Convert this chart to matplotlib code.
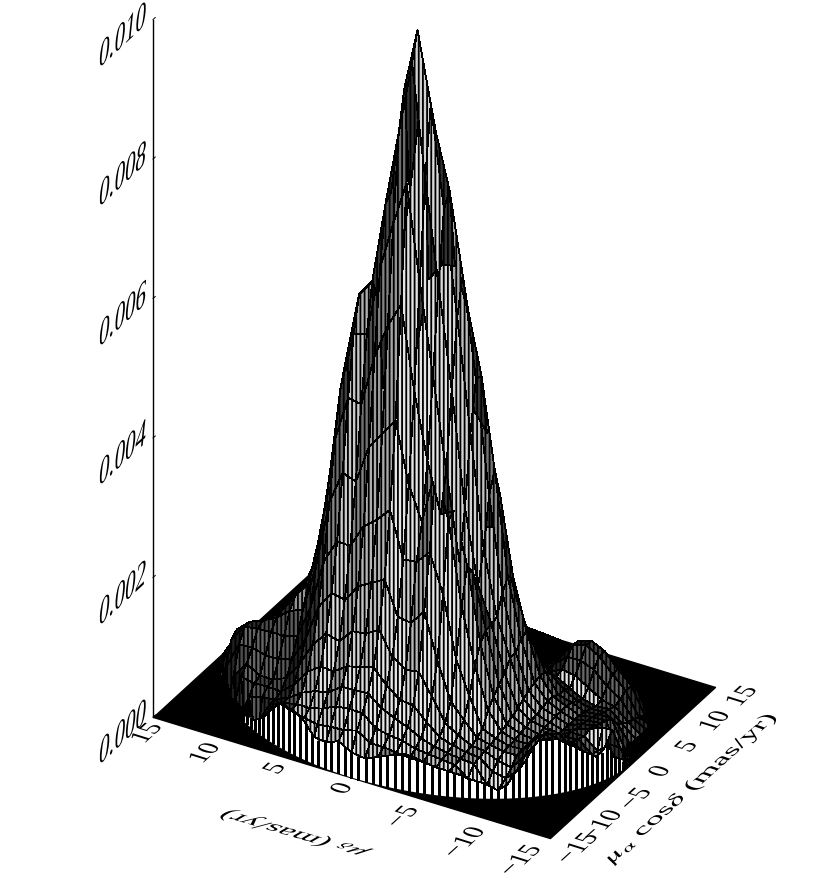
import numpy as np
import matplotlib
matplotlib.use("Agg")
import matplotlib.pyplot as plt
from matplotlib.patheffects import AbstractPathEffect
from matplotlib.transforms import Affine2D
from mpl_toolkits.mplot3d import proj3d
from mpl_toolkits.mplot3d.art3d import Poly3DCollection, Line3DCollection

plt.rcParams["font.family"] = ["Liberation Serif", "DejaVu Serif"]
plt.rcParams["mathtext.fontset"] = "stix"
plt.rcParams["hatch.linewidth"] = 1.3

mu_alpha = list(range(-15, 16))
mu_delta = list(range(15, -16, -1))

# density, units of 1e-5, one row per mu_delta, one column per mu_alpha
density = [
    [18,16,14,12,11,10,8,8,7,6,6,5,5,4,4,3,3,3,3,3,3,3,3,3,3,3,3,3,3,3,3],
    [16,18,14,12,11,10,8,8,7,6,12,8,5,4,4,3,3,3,3,3,3,3,3,3,3,3,3,3,3,3,3],
    [14,14,18,14,12,11,10,8,35,40,28,15,7,5,4,4,3,3,3,3,3,3,3,3,3,3,3,3,3,3,3],
    [12,12,12,14,14,12,45,78,85,66,42,22,10,6,5,4,3,3,3,3,3,3,3,3,3,3,3,3,3,3,3],
    [10,12,14,16,18,45,84,102,102,80,55,30,18,8,5,4,4,3,3,3,3,3,3,3,3,3,3,3,3,3,3],
    [12,12,14,18,58,69,85,105,110,105,85,60,44,21,10,6,4,4,3,3,3,3,3,3,3,3,3,3,3,3,3],
    [18,16,14,42,54,58,80,106,119,123,108,90,67,40,20,11,6,5,4,3,3,3,3,3,3,3,3,3,3,3,3],
    [42,30,22,47,55,58,80,106,135,149,144,138,107,68,36,18,8,5,4,4,3,3,3,3,3,3,3,3,3,3,3],
    [58,48,50,50,54,66,86,112,142,173,194,192,158,103,55,27,12,7,5,4,4,3,3,3,3,3,3,3,3,3,3],
    [64,63,58,58,70,92,119,159,211,259,298,308,261,179,97,44,20,9,6,5,4,4,4,3,3,3,3,3,3,3,3],
    [63,60,62,71,94,126,172,231,308,390,456,490,431,304,172,78,32,13,8,6,5,4,4,4,3,3,3,3,3,3,3],
    [57,55,62,79,107,147,198,265,356,456,540,590,543,404,241,121,51,23,10,6,5,5,4,4,4,3,3,3,3,3,3],
    [39,52,67,83,106,142,194,264,349,453,546,615,585,447,286,149,65,24,10,6,5,5,4,4,4,3,3,3,3,3,3],
    [38,54,76,97,119,162,219,298,405,527,647,732,740,594,389,206,91,34,13,7,6,5,5,4,4,4,4,3,3,3,3],
    [46,55,78,98,124,164,230,313,429,577,716,840,895,740,498,271,113,48,18,8,6,5,5,4,4,4,4,3,3,3,3],
    [36,60,78,99,129,176,241,333,454,613,780,945,985,900,613,348,162,64,25,8,5,5,4,4,4,4,3,3,3,3,3],
    [33,48,62,84,109,143,193,268,368,495,644,785,885,835,640,408,213,93,36,10,6,5,5,4,4,4,4,3,3,3,3],
    [40,48,58,75,94,130,190,270,320,400,515,639,740,760,644,442,241,105,44,17,7,5,5,4,4,4,4,3,3,3,3],
    [47,46,56,68,92,133,212,290,400,330,386,494,590,644,585,436,260,134,57,25,9,6,5,4,4,4,4,4,3,3,3],
    [52,44,50,58,74,103,147,236,334,340,260,330,430,500,498,409,267,141,67,26,11,7,6,5,5,4,4,4,4,3,3],
    [48,44,48,52,58,71,95,148,216,268,250,225,270,340,369,325,229,129,59,27,27,26,24,19,13,9,6,5,4,4,4],
    [42,40,46,48,52,59,74,101,137,162,174,175,178,206,221,212,164,105,58,31,38,43,42,35,24,15,8,6,5,3,3],
    [38,36,44,46,48,50,54,60,79,92,102,110,125,126,138,142,120,94,66,54,59,62,62,51,30,16,8,5,4,3,3],
    [35,32,28,44,46,48,50,52,55,58,62,66,72,77,81,84,82,72,61,64,75,85,83,68,40,22,10,5,3,3,3],
    [30,26,24,20,32,40,46,47,48,50,52,54,56,58,60,60,55,55,50,61,75,90,89,73,40,20,10,5,3,3,3],
    [25,22,16,12,28,36,46,48,48,48,48,50,50,52,52,52,50,45,40,50,68,80,80,50,40,25,10,4,4,3,3],
    [22,16,12,20,38,58,70,68,60,52,46,44,45,45,45,44,42,40,36,38,50,60,60,40,30,12,5,5,4,4,3],
    [14,16,26,38,50,72,88,82,70,60,55,55,52,52,50,48,45,40,38,34,38,42,42,30,10,5,5,4,4,3,3],
    [16,26,38,50,72,84,94,85,65,60,58,55,58,56,52,48,44,30,22,18,14,10,6,5,5,4,4,4,3,3,3],
    [26,38,50,65,84,93,90,72,62,51,42,40,66,35,10,8,7,6,6,5,5,5,5,4,4,4,4,4,3,3,3],
    [38,50,65,78,93,95,78,65,57,48,38,46,66,35,10,8,7,6,6,5,5,5,5,4,4,4,4,4,3,3,3],
]

# height of the cliff along the near edge of the circle, same units
rim_angle = list(range(140, 266, 2))
rim_height = [8,10,14,18,22,30,42,55,62,64,64,63,62,52,42,36,38,42,46,42,36,32,33,36,40,45,50,53,52,48,46,
              42,39,37,35,32,28,25,22,16,12,20,32,43,58,72,84,93,95,85,72,65,60,54,48,42,38,40,52,66,66,35,12]

z_ticks = [0.000, 0.002, 0.004, 0.006, 0.008, 0.010]
z_labels = ["0.000", "0.002", "0.004", "0.006", "0.008", "0.010"]
delta_labels = ["15", "10", "5", "0", "\u22125", "\u221210", "\u221215"]
alpha_labels = ["\u221215", "\u221210", "\u22125", "0", "5", "10", "15"]

W, H = 832, 886
elev, azim = 31.9, -150.0
radius = 15.0


class Glyph3D(AbstractPathEffect):
    # draws the glyphs through a 2x2 matrix so text lies in the plane of the box
    def __init__(self, ex, ey, ux, uy):
        super().__init__()
        self.mat = np.array([[ex, ux, 0], [ey, uy, 0], [0, 0, 1.0]])

    def draw_path(self, renderer, gc, tpath, affine, rgbFace=None):
        m = affine.get_matrix()
        ox, oy = m[0, 2], m[1, 2]
        new = affine + Affine2D().translate(-ox, -oy) + Affine2D(self.mat) + Affine2D().translate(ox, oy)
        renderer.draw_path(gc, tpath, new, rgbFace)


def label(px, py, s, effect):
    fig.text(px / W, 1 - py / H, s, ha="left", va="baseline", fontsize=10, color="k", path_effects=[effect])


fig = plt.figure(figsize=(W / 100, H / 100), dpi=100)
ax = fig.add_axes([0, 0, 1, 1], projection="3d", computed_zorder=False)
ax.set_proj_type("ortho")
ax.view_init(elev=elev, azim=azim)
ax.set_box_aspect((330, 458, 821))
ax.set_xlim(-15, 15, view_margin=0)
ax.set_ylim(-15, 15, view_margin=0)
ax.set_zlim(0, 0.01, view_margin=0)
ax.set_axis_off()

# put the box corners on the reference pixels
fig.canvas.draw()
ax.apply_aspect()


def to_px(x, y, z):
    X, Y, _ = proj3d.proj_transform(x, y, z, ax.get_proj())
    return ax.transData.transform((X, Y))


p0 = ax.get_position().bounds
o0 = np.array([p0[0] * W, p0[1] * H])
s0 = p0[2] * W
u_left = (to_px(-15, 15, 0) - o0) / s0
u_near = (to_px(-15, -15, 0) - o0) / s0
u_right = (to_px(15, -15, 0) - o0) / s0
t_left = np.array([153, H - 717.0])
t_near = np.array([550, H - 838.0])
t_right = np.array([715, H - 687.0])
side = np.linalg.norm(t_right - t_left) / np.linalg.norm(u_right - u_left)
origin = (t_left + t_near + t_right) / 3 - side * (u_left + u_near + u_right) / 3
ax.set_position([origin[0] / W, origin[1] / H, side / W, side / H])

# grid, points beyond the circle sit on its edge
A, D = np.meshgrid(np.array(mu_alpha, float), np.array(mu_delta, float))
Z_units = np.array(density, float)
Z = Z_units * 1e-5
R = np.hypot(A, D)
shrink = np.minimum(1.0, radius / np.maximum(R, 1e-9))
X = A * shrink
Y = D * shrink

# tone from how squarely each cell faces the viewer, stands in for the line density
dzda = 0.5 * (Z_units[:-1, 1:] - Z_units[:-1, :-1] + Z_units[1:, 1:] - Z_units[1:, :-1]) * 0.821 / 11.0
dzdd = -0.5 * (Z_units[1:, :-1] - Z_units[:-1, :-1] + Z_units[1:, 1:] - Z_units[:-1, 1:]) * 0.821 / 15.27
norm = np.sqrt(dzda ** 2 + dzdd ** 2 + 1)
el, az = np.radians(elev), np.radians(azim)
facing = (-dzda * np.cos(el) * np.cos(az) - dzdd * np.cos(el) * np.sin(az) + np.sin(el)) / norm
mean_z = 0.25 * (Z_units[:-1, :-1] + Z_units[1:, :-1] + Z_units[:-1, 1:] + Z_units[1:, 1:])
tone = np.clip(1.4 * (facing - 0.25), 0.2, 0.9)
# low patches at the far left and right are nearly solid in the reference
far = (mean_z < 125) & ((D[:-1, :-1] > 6) | (A[:-1, :-1] > 3))
tone[far] *= 0.45
tone[mean_z < 8] = 0

polys, colors = [], []
for i in range(len(mu_delta) - 1):
    for j in range(len(mu_alpha) - 1):
        if min(R[i, j], R[i + 1, j], R[i, j + 1], R[i + 1, j + 1]) >= radius:
            continue
        polys.append([(X[i, j], Y[i, j], Z[i, j]), (X[i, j + 1], Y[i, j + 1], Z[i, j + 1]),
                      (X[i + 1, j + 1], Y[i + 1, j + 1], Z[i + 1, j + 1]), (X[i + 1, j], Y[i + 1, j], Z[i + 1, j])])
        colors.append((tone[i, j], tone[i, j], tone[i, j], 1))

floor = Poly3DCollection([[(-15, -15, 0), (15, -15, 0), (15, 15, 0), (-15, 15, 0)]],
                         facecolors="k", edgecolors="k", zorder=1)
ax.add_collection3d(floor, autolim=False)

th = np.radians(rim_angle)
rx = radius * np.cos(th)
ry = radius * np.sin(th)
rz = np.array(rim_height) * 1e-5
skirt = [[(rx[k], ry[k], 0), (rx[k + 1], ry[k + 1], 0), (rx[k + 1], ry[k + 1], rz[k + 1]), (rx[k], ry[k], rz[k])]
         for k in range(len(rx) - 1)]
ax.add_collection3d(Poly3DCollection(skirt, facecolors="w", edgecolors="none", zorder=2), autolim=False)
stripes = [[(rx[k], ry[k], 0), (rx[k], ry[k], rz[k])] for k in range(len(rx))]
ax.add_collection3d(Line3DCollection(stripes, colors="k", linewidths=2.0, antialiaseds=False, zorder=3), autolim=False)

surf = Poly3DCollection(polys, facecolors=colors, edgecolors="k", linewidths=0.6, antialiaseds=False,
                        zsort="average", zorder=4, hatch="||||")
ax.add_collection3d(surf, autolim=False)

# vertical axis
ax.plot([-15, -15], [15, 15], [0, 0.01], color="k", lw=1.0, zorder=5)
for t in z_ticks:
    ax.plot([-15, -14.6], [15, 15], [t, t], color="k", lw=0.7, zorder=5)

z_fx = Glyph3D(1.5, 1.4, 0.3, 2.9)
floor_fx = Glyph3D(1.4, 1.27, -1.85, 0.58)
for s, y in zip(z_labels, [766, 627, 487, 348, 208, 69]):
    label(98, y, s, z_fx)
for s, (x, y) in zip(delta_labels, [(144, 744), (202, 764), (277, 775), (344, 795), (399, 828), (456, 858), (512, 876)]):
    label(x, y, s, floor_fx)
for s, (x, y) in zip(alpha_labels, [(569, 864), (593, 841), (632, 810), (662, 778), (689, 753), (712, 732), (739, 707)]):
    label(x, y, s, floor_fx)

label(369, 851, r"$\mu_\delta$ (mas/yr)", Glyph3D(-2.25, 0.65, -1.4, -0.8))
label(612, 864, r"$\mu_\alpha$ cos$\delta$ (mas/yr)", Glyph3D(1.8, 1.6, -1.4, 0.5))

fig.savefig("out.png", dpi=100)
